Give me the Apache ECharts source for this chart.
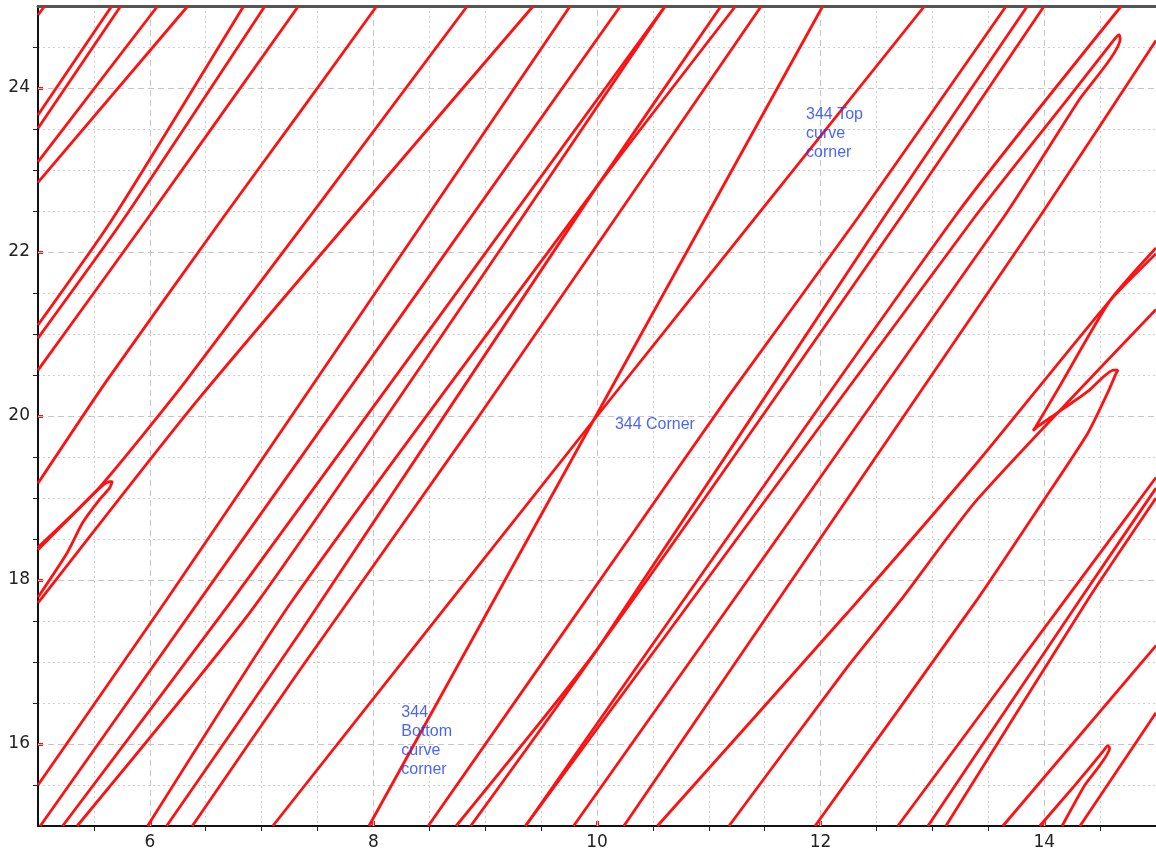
<!DOCTYPE html>
<html><head><meta charset="utf-8">
<script src="https://cdn.jsdelivr.net/npm/echarts@6/dist/echarts.min.js"></script>
<style>html,body{margin:0;padding:0;background:#fff}#c{width:1156px;height:853px}</style>
</head><body><div id="c"></div>
<script>
const xMajor = [6, 8, 10, 12, 14];
const xMinor = [5.5, 6.5, 7, 7.5, 8.5, 9, 9.5, 10.5, 11, 11.5, 12.5, 13, 13.5, 14.5];
const yMajor = [16, 18, 20, 22, 24];
const yMinor = [15.5, 16.5, 17, 17.5, 18.5, 19, 19.5, 20.5, 21, 21.5, 22.5, 23, 23.5, 24.5];

const curve01 = [[5, 24.89], [5.06, 25]];
const curve02 = [[5, 23.67], [5.66, 25]];
const curve03 = [[5, 23.51], [5.74, 25]];
const curve04 = [[5, 23.10], [6.07, 25]];
const curve05 = [[5, 22.85], [6.34, 25]];
const curve06 = [[5, 21.11], [5.66, 22.39], [6.84, 25]];
const curve07 = [[5, 20.95], [5.76, 22.39], [7.03, 25]];
const curve08 = [[5, 20.56], [5.97, 22.39], [7.33, 25]];
const curve09 = [[5, 19.18], [5.62, 20.44], [6.64, 22.39], [7.34, 23.70], [8.03, 25]];
const curve10 = [[5, 18.40], [5.55, 19.13], [6.33, 20.44], [8.84, 25]];
const hairpinLeft = [[5, 18.37], [5.3, 18.78], [5.55, 19.12], [5.64, 19.2], [5.665, 19.2], [5.64, 19.12], [5.55, 18.98], [5.40, 18.70], [5.26, 18.33], [5, 17.79]];
const curve12 = [[5, 17.72], [6.45, 20.23], [9.43, 25]];
const lineB1 = [[5, 15.50], [6.15, 17.76], [9.76, 25]];
const lineB2 = [[5.02, 15], [6.45, 17.76], [10.21, 25]];
const lineB3 = [[5.22, 15], [6.74, 17.76], [10.61, 25]];
const lineB4 = [[5.35, 15], [6.98, 17.76], [10.61, 25]];
const lineB5 = [[5.98, 15], [7.28, 17.76], [10.0, 22.8], [11.24, 25]];
const lineB6 = [[6.15, 15], [7.34, 17.35], [10.0, 22.8], [11.11, 25]];
const lineB7 = [[6.38, 15], [7.34, 16.90], [8.94, 19.99], [11.47, 25]];
const lineCorner = [[7.10, 15], [10, 20], [12.93, 25]];
const lineSteep = [[7.96, 15], [12.02, 25]];
const lineR1 = [[8.49, 15], [10.34, 18.61], [11.17, 20.23], [12.34, 22.43], [13.66, 25]];
const lineR2 = [[8.74, 15], [10.0, 17.15], [12.72, 22.43], [14.00, 25]];
const lineR3 = [[8.87, 15], [10.0, 17.15], [12.57, 22.43], [13.85, 25]];
const lineR4 = [[9.36, 15], [13.20, 22.43], [14.69, 25]];
const hairpinTop = [[9.36, 15], [13.38, 22.43], [14.20, 23.85], [14.62, 24.58], [14.67, 24.65], [14.68, 24.6], [14.31, 23.85], [13.64, 22.43], [9.79, 15]];
const lineR6 = [[10.24, 15], [13.96, 22.43], [15, 24.58]];
const lineR7 = [[10.54, 15], [12.24, 17.60], [13.40, 19.43], [14.59, 21.41], [15, 21.98]];
const lineR8 = [[11.18, 15], [12.24, 16.94], [12.72, 17.76], [13.40, 18.98], [15, 21.30]];
const sCurve = [[11.95, 15], [13.40, 17.76], [14.00, 18.98], [14.39, 19.79], [14.57, 20.29], [14.64, 20.51], [14.66, 20.56], [14.62, 20.56], [14.39, 20.30], [14.12, 20.04], [13.95, 19.88], [13.90, 19.82], [13.92, 19.86], [14.12, 20.32], [14.59, 21.41], [15, 22.05]];
const bundle1 = [[12.69, 15], [14.19, 17.76], [15, 19.25]];
const bundle2 = [[12.96, 15], [14.32, 17.76], [15, 19.12]];
const bundle3 = [[13.12, 15], [14.39, 17.76], [15, 19.00]];
const lineR9 = [[13.63, 15], [15, 17.20]];
const hairpinBottom = [[13.96, 15], [14.27, 15.49], [14.52, 15.9], [14.57, 15.98], [14.585, 15.95], [14.36, 15.49], [14.16, 15]];
const lineR10 = [[14.32, 15], [15, 16.38]];

const curves = [curve01, curve02, curve03, curve04, curve05, curve06, curve07, curve08, curve09, curve10,
  hairpinLeft, curve12, lineB1, lineB2, lineB3, lineB4, lineB5, lineB6, lineB7, lineCorner, lineSteep,
  lineR1, lineR2, lineR3, lineR4, hairpinTop, lineR6, lineR7, lineR8, sCurve, bundle1, bundle2, bundle3,
  lineR9, hairpinBottom, lineR10];

const notes = [
  {pos: [10.16, 19.90], text: '344 Corner'},
  {pos: [11.87, 23.45], text: '344 Top\ncurve\ncorner'},
  {pos: [8.25, 16.03], text: '344\nBottom\ncurve\ncorner'}
];

const chart = echarts.init(document.getElementById('c'), null, {renderer: 'canvas'});
const gridLineStyle = {color: '#c6c6c6', width: 1, type: [6, 4]};
const series = curves.map(function (d) {
  return {type: 'line', data: d, showSymbol: false, symbol: 'none', z: 5, silent: true,
    smooth: 0.2, lineStyle: {color: '#ff1111', width: 2.8}, clip: true};
});
series.unshift({type: 'line', data: [], z: 1, silent: true,
  markLine: {symbol: 'none', silent: true, label: {show: false}, lineStyle: gridLineStyle,
    data: xMajor.map(v => ({xAxis: v})).concat(yMajor.map(v => ({yAxis: v})))}});
notes.forEach(function (n) {
  series.push({type: 'scatter', data: [n.pos], symbolSize: 0, z: 6, silent: true,
    label: {show: true, position: 'right', distance: 0, formatter: n.text, color: '#1a3dff',
      fontFamily: 'Liberation Sans', fontSize: 16, lineHeight: 19, align: 'left', verticalAlign: 'middle'}});
});

chart.setOption({
  animation: false,
  backgroundColor: '#fff',
  grid: {left: 38, right: -3, top: 6, bottom: 27, containLabel: false},
  xAxis: [
    {type: 'value', min: 5, max: 15, position: 'bottom',
      axisLine: {show: true, onZero: false, lineStyle: {color: '#111', width: 2}},
      axisTick: {show: true, inside: true, length: 5, customValues: xMajor, lineStyle: {color: '#ff1111', width: 3}},
      axisLabel: {customValues: xMajor, fontSize: 17, color: '#222', margin: 8, fontFamily: 'DejaVu Sans'},
      splitLine: {show: false}},
    {type: 'value', min: 5, max: 15, interval: 0.5, position: 'bottom',
      axisLine: {show: false, onZero: false},
      axisTick: {show: true, inside: false, length: 5, customValues: xMinor, lineStyle: {color: '#222', width: 1}},
      axisLabel: {show: false},
      splitLine: {show: true, lineStyle: {color: '#cfcfcf', width: 1, type: [2, 3]}}},
    {type: 'value', min: 5, max: 15, position: 'top',
      axisLine: {show: true, onZero: false, lineStyle: {color: '#555', width: 3}},
      axisTick: {show: false}, axisLabel: {show: false}, splitLine: {show: false}}
  ],
  yAxis: [
    {type: 'value', min: 15, max: 25, position: 'left',
      axisLine: {show: true, onZero: false, lineStyle: {color: '#111', width: 2}},
      axisTick: {show: true, inside: true, length: 5, customValues: yMajor, lineStyle: {color: '#ff1111', width: 3}},
      axisLabel: {customValues: yMajor, fontSize: 17, color: '#222', margin: 8, fontFamily: 'DejaVu Sans'},
      splitLine: {show: false}},
    {type: 'value', min: 15, max: 25, interval: 0.5, position: 'left',
      axisLine: {show: false, onZero: false},
      axisTick: {show: true, inside: false, length: 5, customValues: yMinor, lineStyle: {color: '#222', width: 1}},
      axisLabel: {show: false},
      splitLine: {show: true, lineStyle: {color: '#cfcfcf', width: 1, type: [2, 3]}}}
  ],
  series: series
});
</script></body></html>
